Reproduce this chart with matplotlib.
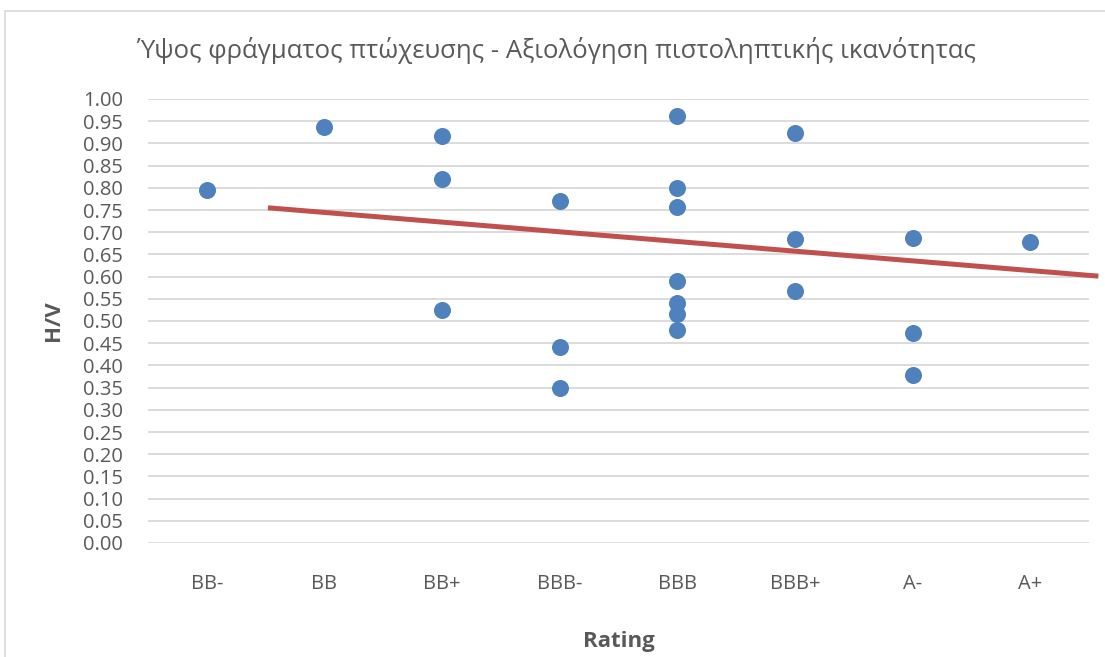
import numpy as np
import matplotlib.pyplot as plt
from matplotlib.patches import Rectangle

# Ratings on the x axis and H/V values observed for each rating
ratings = ['BB-', 'BB', 'BB+', 'BBB-', 'BBB', 'BBB+', 'A-', 'A+']
hv_values = {
    'BB-': [0.795],
    'BB': [0.938],
    'BB+': [0.917, 0.819, 0.525],
    'BBB-': [0.770, 0.441, 0.348],
    'BBB': [0.962, 0.800, 0.756, 0.591, 0.541, 0.516, 0.480],
    'BBB+': [0.924, 0.684, 0.568],
    'A-': [0.688, 0.472, 0.378],
    'A+': [0.679],
}
# Linear trend line end points (rating position, H/V)
trend_x = [1.52, 8.58]
trend_y = [0.755, 0.601]

y_ticks = np.arange(0, 1.0001, 0.05)

plt.rcParams['font.family'] = ['Open Sans', 'DejaVu Sans']

W, H = 1105, 657
fig = plt.figure(figsize=(W / 100, H / 100), dpi=100)
ax = fig.add_axes([148 / W, 1 - 543 / H, (1089 - 148) / W, (543 - 99) / H])

# chart area frame
fig.add_artist(Rectangle((5 / W, -0.1), 1.2, 1.1 - 11 / H,
                         transform=fig.transFigure, fill=False,
                         edgecolor='#D9D9D9', linewidth=1.2))

xs, ys = [], []
for i, r in enumerate(ratings, start=1):
    for v in hv_values[r]:
        xs.append(i)
        ys.append(v)

ax.scatter(xs, ys, s=150, color='#4F81BD', zorder=3, linewidths=0)
ax.plot(trend_x, trend_y, color='#C0504D', linewidth=3.6, zorder=2,
        clip_on=False, solid_capstyle='butt')

ax.set_xlim(0.5, 8.5)
ax.set_ylim(0, 1)
ax.set_yticks(y_ticks)
ax.set_yticklabels([f'{t:.2f}' for t in y_ticks])
ax.set_xticks(range(1, len(ratings) + 1))
ax.set_xticklabels(ratings)

ax.grid(True, axis='y', color='#D9D9D9', linewidth=1.3)
ax.set_axisbelow(True)
for s in ax.spines.values():
    s.set_visible(False)
ax.tick_params(axis='both', length=0, colors='#595959', labelsize=14.5)
ax.tick_params(axis='y', pad=18)
ax.tick_params(axis='x', pad=22)

ax.set_ylabel('H/V', fontsize=16, fontweight='bold', color='#595959',
              labelpad=14)
ax.set_xlabel('Rating', fontsize=16, fontweight='bold', color='#595959',
              labelpad=27)

fig.text(556 / W, 1 - 50 / H,
         'Ύψος φράγματος πτώχευσης - Αξιολόγηση πιστοληπτικής ικανότητας',
         ha='center', va='center', fontsize=18.5, color='#595959')

fig.savefig('out.png', dpi=100)
